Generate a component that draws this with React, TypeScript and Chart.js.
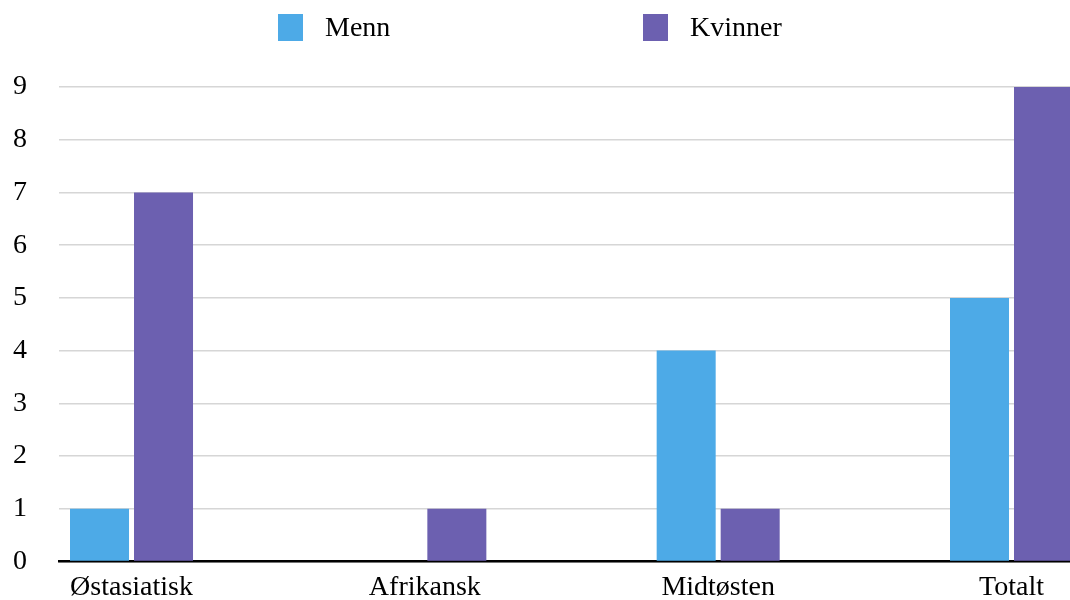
import React, { useEffect, useRef } from 'react';
import { Chart, registerables } from 'chart.js';

Chart.register(...registerables);

const categories = ['Østasiatisk', 'Afrikansk', 'Midtøsten', 'Totalt'];
const seriesNames = ['Menn', 'Kvinner'];
const mennValues = [1, 0, 4, 5];
const kvinnerValues = [7, 1, 1, 9];
const seriesColors = ['#4DAAE7', '#6C60B0'];
const yMin = 0;
const yMax = 9;

const FONT_FAMILY = "'Liberation Serif', 'Times New Roman', serif";

const topLegend = {
  id: 'topLegend',
  afterDraw(chart: any) {
    const ctx = chart.ctx;
    const start = chart.width / 2 - 257;
    const pitch = 365;
    ctx.save();
    chart.data.datasets.forEach((ds: any, i: number) => {
      const x = start + i * pitch;
      ctx.fillStyle = ds.backgroundColor;
      ctx.fillRect(x, 14, 25, 27);
      ctx.fillStyle = '#000';
      ctx.font = `28px ${FONT_FAMILY}`;
      ctx.textAlign = 'left';
      ctx.textBaseline = 'alphabetic';
      ctx.fillText(ds.label, x + 47, 36);
    });
    ctx.restore();
  },
};

export default function App() {
  const canvasRef = useRef<HTMLCanvasElement | null>(null);

  useEffect(() => {
    if (!canvasRef.current) return;
    const seriesValues = [mennValues, kvinnerValues];
    const chart = new Chart(canvasRef.current, {
      type: 'bar',
      data: {
        datasets: seriesNames.map((name, s) => ({
          label: name,
          data: seriesValues[s].map((v, i) => ({ x: i, y: v })),
          backgroundColor: seriesColors[s],
          borderWidth: 0,
          categoryPercentage: 0.4364,
          barPercentage: 0.922,
        })),
      },
      options: {
        animation: false,
        responsive: true,
        maintainAspectRatio: false,
        layout: { padding: { top: 87, left: 13, right: 0, bottom: 0 } },
        plugins: {
          legend: { display: false },
          tooltip: { enabled: false },
        },
        scales: {
          x: {
            type: 'linear',
            offset: false,
            bounds: 'data',
            min: -0.2472,
            max: 3.1994,
            afterBuildTicks: (scale: any) => {
              scale.ticks = categories.map((_, i) => ({ value: i }));
            },
            afterFit: (scale: any) => {
              scale.height = 38.5;
              scale.paddingLeft = 0;
              scale.paddingRight = 0;
              scale.paddingTop = 0;
              scale.paddingBottom = 0;
            },
            ticks: {
              callback: (value: any) => categories[value as number],
              font: { family: FONT_FAMILY, size: 28, lineHeight: 1 },
              color: '#000',
              padding: 12,
              autoSkip: false,
              maxRotation: 0,
            },
            grid: { display: false, drawTicks: false },
            border: { display: true, color: '#000', width: 2.5 },
          },
          y: {
            min: yMin,
            max: yMax,
            afterFit: (scale: any) => {
              scale.width = 46;
              scale.paddingTop = 0;
              scale.paddingBottom = 0;
            },
            ticks: {
              stepSize: 1,
              font: { family: FONT_FAMILY, size: 28 },
              color: '#000',
              padding: 32,
            },
            grid: { color: '#d6d6d6', lineWidth: 1.5, drawTicks: false },
            border: { display: false },
          },
        },
      } as any,
      plugins: [topLegend],
    });
    return () => chart.destroy();
  }, []);

  return (
    <div style={{ position: 'fixed', left: 0, top: 0, width: 1070, height: 600, background: '#fff' }}>
      <canvas ref={canvasRef} />
    </div>
  );
}
